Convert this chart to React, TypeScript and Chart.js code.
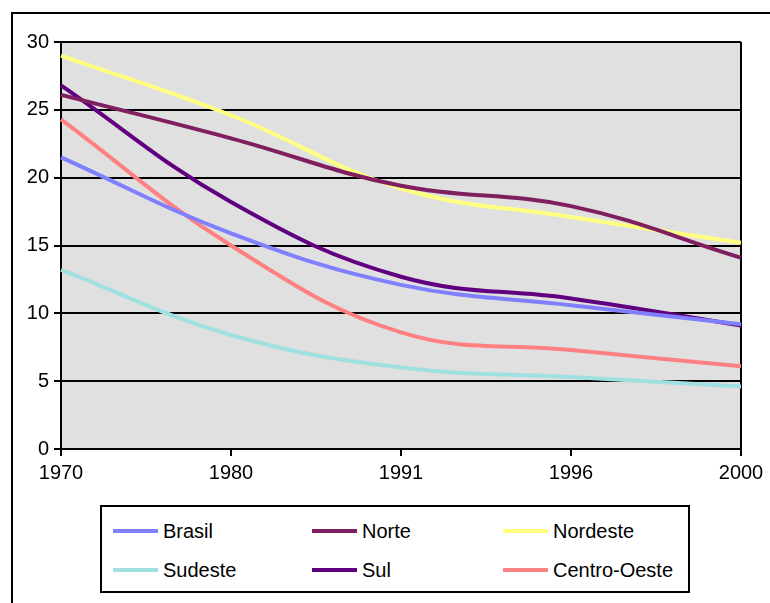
import React, { useEffect, useRef } from "react";
import { Chart, registerables } from "chart.js";

Chart.register(...registerables);

const years = ["1970", "1980", "1991", "1996", "2000"];
const brasil = [21.5, 15.9, 12.1, 10.6, 9.2];
const norte = [26.1, 22.9, 19.4, 17.9, 14.1];
const nordeste = [29.0, 24.6, 19.2, 17.1, 15.2];
const sudeste = [13.2, 8.4, 6.0, 5.3, 4.6];
const sul = [26.8, 18.2, 12.7, 11.1, 9.1];
const centroOeste = [24.3, 15.0, 8.6, 7.3, 6.1];
const yTicks = [0, 5, 10, 15, 20, 25, 30];

const seriesNames = ["Brasil", "Norte", "Nordeste", "Sudeste", "Sul", "Centro-Oeste"];
const seriesData = [brasil, norte, nordeste, sudeste, sul, centroOeste];
const seriesColors = ["#8080FF", "#801F5F", "#FFFF80", "#A0E0E0", "#600080", "#FF8080"];

const FONT = "'Liberation Sans', Arial, sans-serif";

export default function App() {
  const ref = useRef<HTMLCanvasElement | null>(null);

  useEffect(() => {
    const canvas = ref.current;
    if (!canvas) return;
    const bgPlugin = {
      id: "plotBg",
      beforeDraw(chart: any) {
        const { ctx, chartArea } = chart;
        ctx.save();
        ctx.fillStyle = "#E0E0E0";
        ctx.fillRect(chartArea.left, chartArea.top, chartArea.right - chartArea.left, chartArea.bottom - chartArea.top);
        ctx.restore();
      },
      beforeDatasetsDraw(chart: any) {
        const { ctx, chartArea } = chart;
        ctx.save();
        ctx.strokeStyle = "#000";
        ctx.lineWidth = 2;
        ctx.beginPath();
        ctx.moveTo(chartArea.right, chartArea.top);
        ctx.lineTo(chartArea.right, chartArea.bottom);
        ctx.stroke();
        ctx.restore();
      },
    };
    const chart = new Chart(canvas, {
      type: "line",
      data: {
        labels: years,
        datasets: seriesNames.map((name, i) => ({
          label: name,
          data: seriesData[i],
          borderColor: seriesColors[i],
          backgroundColor: seriesColors[i],
          borderWidth: 4,
          pointRadius: 0,
          tension: 0.4,
          fill: false,
        })),
      },
      options: {
        responsive: false,
        animation: false,
        events: [],
        layout: { padding: { left: 0, top: 42, right: 29, bottom: 114 } },
        plugins: { legend: { display: false }, tooltip: { enabled: false } },
        scales: {
          x: {
            type: "category",
            offset: false,
            grid: { display: true, drawOnChartArea: false, drawTicks: true, tickLength: 7, color: "#000", lineWidth: 2 },
            border: { display: true, color: "#000", width: 2 },
            ticks: { color: "#000", font: { family: FONT, size: 20 }, padding: 5, maxRotation: 0, autoSkip: false },
            afterFit(scale: any) {
              scale.height = 40;
            },
          },
          y: {
            min: 0,
            max: 30,
            afterBuildTicks(scale: any) {
              scale.ticks = yTicks.map((v) => ({ value: v }));
            },
            grid: { display: true, drawTicks: true, tickLength: 7, color: "#000", lineWidth: 2 },
            border: { display: true, color: "#000", width: 2 },
            ticks: { color: "#000", font: { family: FONT, size: 20 }, padding: 5 },
            afterFit(scale: any) {
              scale.width = 61;
            },
          },
        },
      },
      plugins: [bgPlugin],
    });
    return () => chart.destroy();
  }, []);

  const colLeft = [113, 312, 503];
  const rowTop = [531, 570];

  return (
    <div style={{ position: "absolute", left: 0, top: 0, width: 770, height: 603, overflow: "hidden", background: "#fff" }}>
      <div style={{ position: "absolute", left: 11, top: 12, width: 800, height: 700, border: "2px solid #000", boxSizing: "border-box" }} />
      <canvas ref={ref} width={770} height={603} style={{ position: "absolute", left: 0, top: 0 }} />
      <div style={{ position: "absolute", left: 100, top: 505, width: 590, height: 88, border: "2px solid #000", boxSizing: "border-box", background: "#fff" }} />
      {seriesNames.map((name, i) => {
        const c = i % 3;
        const r = Math.floor(i / 3);
        return (
          <div key={name} style={{ position: "absolute", left: colLeft[c], top: rowTop[r] - 12, height: 24, display: "flex", alignItems: "center" }}>
            <div style={{ width: 45, height: 4, background: seriesColors[i], marginRight: 5 }} />
            <span style={{ fontFamily: FONT, fontSize: 20, color: "#000", lineHeight: "24px" }}>{name}</span>
          </div>
        );
      })}
    </div>
  );
}
